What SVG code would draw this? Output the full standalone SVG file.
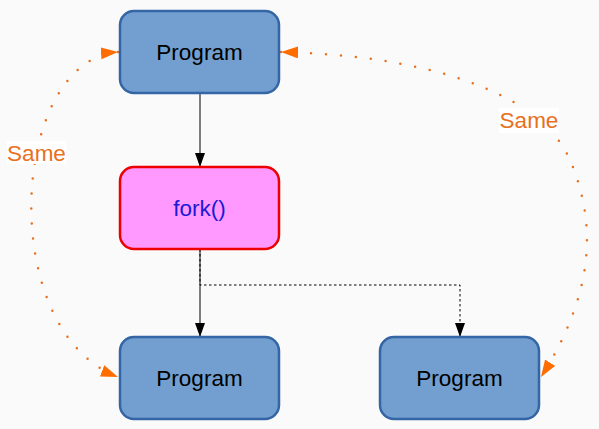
<svg xmlns="http://www.w3.org/2000/svg" width="599" height="429" viewBox="0 0 599 429">
<style>
.box{fill:#729fcf;stroke:#3465a4;stroke-width:2.5}
.fork{fill:#ff99ff;stroke:#ee0000;stroke-width:2.5}
.t{font-family:"Liberation Sans",Arial,sans-serif;font-size:22.5px;text-anchor:middle;dominant-baseline:central}
.same{fill:none;stroke:#e8701e;stroke-width:2.5;stroke-linecap:round;stroke-dasharray:0 15}
.line{fill:none;stroke:#000;stroke-width:1}
.lbl{fill:#e8701e}
</style>
<defs>
<marker id="ah" markerWidth="14" markerHeight="10" refX="13" refY="5" orient="auto" markerUnits="userSpaceOnUse">
<path d="M0,0 L14,5 L0,10 Z" fill="#000"/>
</marker>
<marker id="oh" markerWidth="18" markerHeight="14" refX="17" refY="6" orient="auto-start-reverse" markerUnits="userSpaceOnUse">
<path d="M0,0 L17,6 L0,12 Z" fill="#ff6d00"/>
</marker>
</defs>
<rect width="599" height="429" fill="#fafafa"/>
<g id="connectors">
<path class="line" d="M200,93 L200,166" marker-end="url(#ah)"/>
<path class="line" d="M200,249 L200,336" marker-end="url(#ah)"/>
<path class="line" d="M200,249 L200,285 L460,285 L460,336" stroke-dasharray="2.5 2.5" marker-end="url(#ah)"/>
<path class="same" d="M118,52 C10,60 -5,330 118,377"/>
<path d="M118,52 C10,60 -5,330 118,377" fill="none" stroke="none" marker-start="url(#oh)" marker-end="url(#oh)"/>
<path class="same" d="M281,52 C420,55 540,90 570,160 S590,300 541,377"/>
<path d="M281,52 C420,55 540,90 570,160 S590,300 541,377" fill="none" stroke="none" marker-start="url(#oh)" marker-end="url(#oh)"/>
<g id="label-left">
<rect x="7" y="141" width="59" height="23" fill="#ffffff"/>
<text class="t lbl" x="36.5" y="153">Same</text>
</g>
<g id="label-right">
<rect x="499" y="108" width="60" height="25" fill="#ffffff"/>
<text class="t lbl" x="529" y="120.5">Same</text>
</g>
</g>
<g id="program-top">
<rect class="box" x="120" y="11" width="159" height="82" rx="14"/>
<text class="t" x="199.5" y="52">Program</text>
</g>
<g id="fork">
<rect class="fork" x="120" y="167" width="159" height="82" rx="14"/>
<text class="t" x="199.5" y="208" fill="#1a1ad6">fork()</text>
</g>
<g id="program-left">
<rect class="box" x="120" y="337" width="159" height="82" rx="14"/>
<text class="t" x="199.5" y="378">Program</text>
</g>
<g id="program-right">
<rect class="box" x="380" y="337" width="159" height="82" rx="14"/>
<text class="t" x="459.5" y="378">Program</text>
</g>
</svg>
